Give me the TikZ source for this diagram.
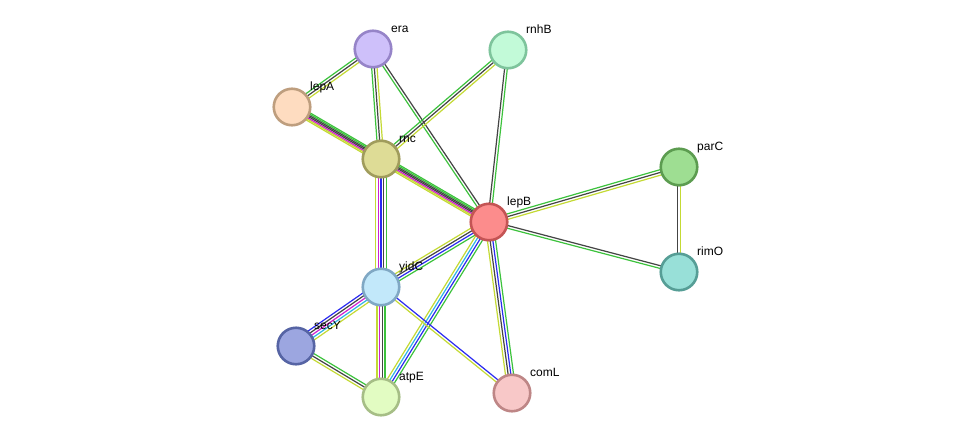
\documentclass[tikz,border=0pt]{standalone}
\usepackage{fontspec}
\setmainfont{Liberation Sans}
\usetikzlibrary{calc,backgrounds}
\definecolor{eG}{HTML}{3CC23C}
\definecolor{eK}{HTML}{444444}
\definecolor{eY}{HTML}{C4DA34}
\definecolor{eM}{HTML}{D020D0}
\definecolor{eB}{HTML}{2A2AF0}
\definecolor{eC}{HTML}{30B4E4}
\tikzset{
  pnode/.style={circle, minimum size=36.5pt, inner sep=0pt, line width=2.6pt},
  lbl/.style={anchor=base west, font=\fontsize{12}{14}\selectfont, inner sep=0pt},
  eline/.style={line width=1.2pt}
}
\newcommand\sedge[4]{%
  \foreach \c [count=\i] in {#4} {
    \pgfmathsetmacro\off{(\i-(#3+1)/2)*2.7}
    \draw[eline, draw=\c] ($(#1)!\off pt!90:(#2)$) -- ($(#2)!\off pt!-90:(#1)$);
  }}
\begin{document}
\begin{tikzpicture}[x=1pt, y=-1pt]
\useasboundingbox (0,0) rectangle (976,442);
\node[pnode, fill={rgb,255:red,206;green,192;blue,250}, draw={rgb,255:red,150;green,132;blue,200}] (era) at (373,49) {};
\node[pnode, fill={rgb,255:red,194;green,250;blue,216}, draw={rgb,255:red,126;green,196;blue,156}] (rnhB) at (508,50) {};
\node[pnode, fill={rgb,255:red,254;green,220;blue,192}, draw={rgb,255:red,190;green,158;blue,126}] (lepA) at (292,107) {};
\node[pnode, fill={rgb,255:red,222;green,220;blue,150}, draw={rgb,255:red,160;green,156;blue,92}] (rnc) at (381,159) {};
\node[pnode, fill={rgb,255:red,158;green,222;blue,146}, draw={rgb,255:red,92;green,156;blue,80}] (parC) at (679,167) {};
\node[pnode, fill={rgb,255:red,252;green,140;blue,140}, draw={rgb,255:red,196;green,84;blue,84}] (lepB) at (489,222) {};
\node[pnode, fill={rgb,255:red,152;green,224;blue,216}, draw={rgb,255:red,86;green,158;blue,150}] (rimO) at (679,272) {};
\node[pnode, fill={rgb,255:red,194;green,232;blue,250}, draw={rgb,255:red,128;green,168;blue,196}] (yidC) at (381,287) {};
\node[pnode, fill={rgb,255:red,156;green,166;blue,224}, draw={rgb,255:red,86;green,100;blue,164}] (secY) at (296,346) {};
\node[pnode, fill={rgb,255:red,226;green,252;blue,194}, draw={rgb,255:red,166;green,190;blue,134}] (atpE) at (381,397) {};
\node[pnode, fill={rgb,255:red,248;green,200;blue,200}, draw={rgb,255:red,190;green,134;blue,134}] (comL) at (512,393) {};
\foreach \n in {era,rnhB,lepA,rnc,parC,lepB,rimO,yidC,secY,atpE,comL}
  \node[lbl] (\n-l) at ($(\n)+(18,-17)$) {\n};
\begin{pgfonlayer}{background}
\fill[white] (0,0) rectangle (976,442);
\sedge{era}{lepA}{3}{eG,eK,eY}
\sedge{era}{rnc}{3}{eG,eK,eY}
\sedge{era}{lepB}{2}{eG,eK}
\sedge{rnhB}{rnc}{3}{eG,eK,eY}
\sedge{rnhB}{lepB}{2}{eK,eG}
\sedge{lepA}{lepB}{3}{eY,eK,eG}
\sedge{lepA}{rnc}{4}{eY,eM,eK,eG}
\sedge{rnc}{lepB}{4}{eY,eM,eK,eG}
\sedge{rnc}{yidC}{5}{eY,eM,eB,eK,eG}
\sedge{yidC}{atpE}{4}{eY,eM,eK,eG}
\sedge{yidC}{secY}{5}{eB,eK,eM,eC,eY}
\sedge{yidC}{lepB}{4}{eG,eB,eK,eY}
\sedge{lepB}{atpE}{4}{eY,eC,eB,eG}
\sedge{lepB}{comL}{4}{eY,eK,eB,eG}
\sedge{yidC}{comL}{2}{eY,eB}
\sedge{secY}{atpE}{3}{eY,eK,eG}
\sedge{lepB}{parC}{3}{eY,eK,eG}
\sedge{lepB}{rimO}{2}{eG,eK}
\sedge{parC}{rimO}{2}{eK,eY}
\end{pgfonlayer}
\end{tikzpicture}
\end{document}
